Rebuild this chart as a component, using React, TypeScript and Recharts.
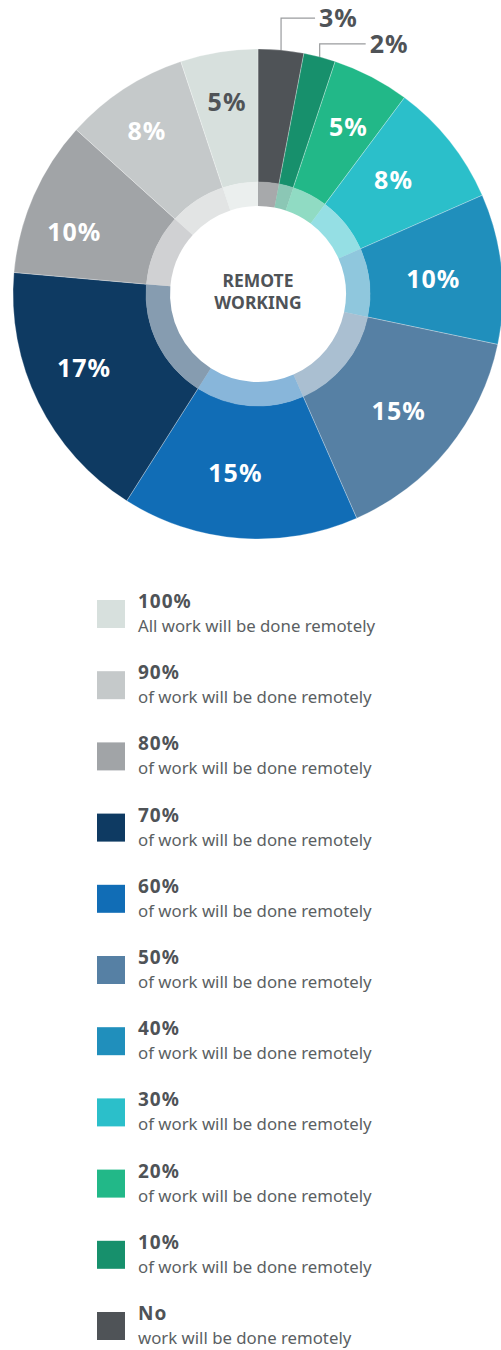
import React from 'react';
import { PieChart, Pie, Cell, Legend, Label } from 'recharts';

const categories = ['No', '10%', '20%', '30%', '40%', '50%', '60%', '70%', '80%', '90%', '100%'];
const shares = [3.0, 2.1, 5.1, 8.2, 9.9, 15.1, 15.6, 17.4, 10.3, 8.2, 5.1];
const shareLabels = ['3%', '2%', '5%', '8%', '10%', '15%', '15%', '17%', '10%', '8%', '5%'];
const legendNotes = [
  'work will be done remotely',
  'of work will be done remotely',
  'of work will be done remotely',
  'of work will be done remotely',
  'of work will be done remotely',
  'of work will be done remotely',
  'of work will be done remotely',
  'of work will be done remotely',
  'of work will be done remotely',
  'of work will be done remotely',
  'All work will be done remotely',
];
const colors = [
  '#4f5357', '#17906c', '#22b888', '#2bbfca', '#208fbc', '#5680a4',
  '#116db6', '#0e3a62', '#a1a4a7', '#c5c9ca', '#d7e0dd',
];
const centerTitle = ['REMOTE', 'WORKING'];

const data = categories.map((name, i) => ({ name, value: shares[i] }));

const FONT = '"Noto Sans", "Open Sans", sans-serif';
const DARK = '#4f5357';
const RAD = Math.PI / 180;

// label placement: radius from centre and a small clockwise nudge (degrees) per slice
const LABEL_RADIUS = [0, 0, 190, 177, 176, 183, 180, 189, 194, 197, 194];
const LABEL_NUDGE = [0, 0, 0.9, -1.5, 1.0, 0.7, 2.9, 3.3, -4.9, -1.2, 0];

function renderSliceLabel(props: any) {
  const { cx, cy, midAngle, outerRadius, index } = props;
  if (index === 0 || index === 1) {
    const cos = Math.cos(-midAngle * RAD);
    const sin = Math.sin(-midAngle * RAD);
    const ex = cx + outerRadius * cos;
    const ey = cy + outerRadius * sin;
    const rise = index === 0 ? 32 : 13;
    const run = index === 0 ? 34 : 46;
    const ky = ey - rise;
    const kx = ex + run;
    return (
      <g key={`lbl-${index}`}>
        <polyline points={`${ex},${ey} ${ex},${ky} ${kx},${ky}`} fill="none" stroke="#9a9c9e" strokeWidth={1.2} />
        <text x={kx + 4} y={ky} dy="0.36em" fill={DARK} fontFamily={FONT} fontWeight={700} fontSize={25} letterSpacing={1} textAnchor="start">
          {shareLabels[index]}
        </text>
      </g>
    );
  }
  const a = (midAngle - LABEL_NUDGE[index]) * RAD;
  const r = LABEL_RADIUS[index];
  const x = cx + r * Math.cos(-a);
  const y = cy + r * Math.sin(-a);
  const fill = index === 10 ? DARK : '#ffffff';
  return (
    <text key={`lbl-${index}`} x={x} y={y} dy="0.36em" fill={fill} fontFamily={FONT} fontWeight={700} fontSize={25} letterSpacing={1} textAnchor="middle">
      {shareLabels[index]}
    </text>
  );
}

function renderCenter(props: any) {
  const vb = props.viewBox || {};
  const cx = vb.cx ?? 258;
  const cy = vb.cy ?? 294;
  return (
    <g>
      <text x={cx} y={cy - 7} textAnchor="middle" fill={DARK} fontFamily={FONT} fontWeight={700} fontSize={17.5}>
        {centerTitle[0]}
      </text>
      <text x={cx} y={cy + 15} textAnchor="middle" fill={DARK} fontFamily={FONT} fontWeight={700} fontSize={17.5}>
        {centerTitle[1]}
      </text>
    </g>
  );
}

const LEGEND_TOP = 570;
const LEGEND_PAD = 30;
const LEGEND_STEP = 71.2;

function renderLegend() {
  const order = categories.map((_, i) => i).reverse();
  return (
    <svg width={380} height={780} style={{ display: 'block', overflow: 'visible' }}>
      {order.map((idx, k) => {
        const top = LEGEND_PAD + k * LEGEND_STEP;
        return (
          <g key={categories[idx]}>
            <rect x={0} y={top} width={28} height={28} fill={colors[idx]} />
            <text x={41} y={top + 8} fill={DARK} fontFamily={FONT} fontWeight={700} fontSize={19} letterSpacing={1}>
              {categories[idx]}
            </text>
            <text x={41} y={top + 32} fill="#5b5f63" fontFamily={FONT} fontSize={16.8}>
              {legendNotes[idx]}
            </text>
          </g>
        );
      })}
    </svg>
  );
}

export default function App() {
  return (
    <div style={{ position: 'absolute', left: 0, top: 0, width: 501, height: 1350, background: '#ffffff' }}>
      <PieChart width={501} height={1350} margin={{ top: 0, right: 0, bottom: 0, left: 0 }}>
        <Pie
          data={data}
          dataKey="value"
          nameKey="name"
          cx={258}
          cy={294}
          innerRadius={112}
          outerRadius={245}
          startAngle={90}
          endAngle={-270}
          stroke="#ffffff"
          strokeOpacity={0.35}
          strokeWidth={0.8}
          label={renderSliceLabel}
          labelLine={false}
          isAnimationActive={false}
        >
          {data.map((d, i) => (
            <Cell key={d.name} fill={colors[i]} />
          ))}
        </Pie>
        <Pie
          data={data}
          dataKey="value"
          nameKey="name"
          cx={258}
          cy={294}
          innerRadius={88}
          outerRadius={112}
          startAngle={90}
          endAngle={-270}
          stroke="none"
          isAnimationActive={false}
        >
          {data.map((d, i) => (
            <Cell key={d.name} fill={colors[i]} fillOpacity={0.5} />
          ))}
          <Label position="center" content={renderCenter} />
        </Pie>
        <Legend
          content={renderLegend}
          wrapperStyle={{ position: 'absolute', top: LEGEND_TOP, left: 97, width: 380, height: 780 }}
        />
      </PieChart>
    </div>
  );
}
